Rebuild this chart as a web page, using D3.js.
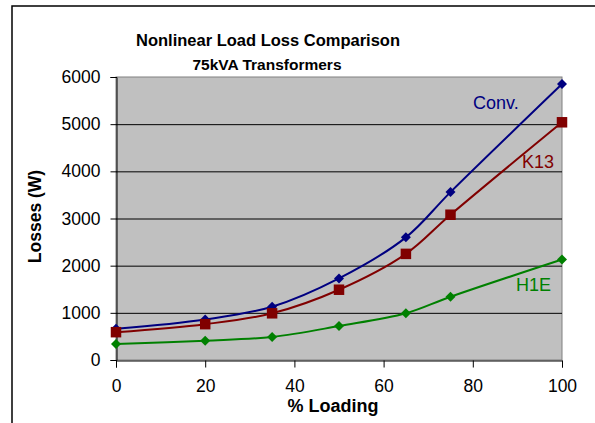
<!DOCTYPE html>
<html>
<head>
<meta charset="utf-8">
<script src="https://cdn.jsdelivr.net/npm/d3@7"></script>
<style>
  html, body { margin: 0; padding: 0; background: #fff; }
  svg { display: block; font-family: Arial, "Liberation Sans", sans-serif; }
</style>
</head>
<body>
<svg id="chart" width="595" height="423"></svg>
<script>
// Loading levels (% of rated load)
const loading = [0, 20, 35, 50, 65, 75, 100];

// Losses in watts for each transformer type
const convLosses = [660, 860, 1130, 1730, 2600, 3560, 5850];
const k13Losses  = [590, 760, 990, 1490, 2250, 3080, 5040];
const h1eLosses  = [340, 410, 490, 720, 990, 1340, 2130];

const yTicks = [0, 1000, 2000, 3000, 4000, 5000, 6000];
const xTicks = [0, 20, 40, 60, 80, 100];

const seriesNames = ["Conv.", "K13", "H1E"];

const svg = d3.select("#chart");

const plot = { left: 116, right: 562, top: 77, bottom: 360 };

const x = d3.scaleLinear().domain([0, 100]).range([plot.left, plot.right]);
const y = d3.scaleLinear().domain([0, 6000]).range([plot.bottom, plot.top]);

// Outer chart frame
svg.append("rect")
  .attr("x", 12).attr("y", 6)
  .attr("width", 700).attr("height", 500)
  .attr("fill", "#fff")
  .attr("stroke", "#000").attr("stroke-width", 1.5);

// Plot area background
svg.append("rect")
  .attr("x", plot.left).attr("y", plot.top)
  .attr("width", plot.right - plot.left)
  .attr("height", plot.bottom - plot.top)
  .attr("fill", "#c0c0c0")
  .attr("stroke", "#808080").attr("stroke-width", 1);

// Horizontal gridlines
svg.append("g")
  .selectAll("line")
  .data(yTicks.filter(d => d > 0 && d < 6000))
  .join("line")
  .attr("x1", plot.left).attr("x2", plot.right)
  .attr("y1", d => y(d) + 0.5).attr("y2", d => y(d) + 0.5)
  .attr("stroke", "#000").attr("stroke-width", 1);

// Y axis
const yAxis = svg.append("g")
  .attr("transform", `translate(${plot.left + 0.5},0)`)
  .call(d3.axisLeft(y).tickValues(yTicks).tickSize(6).tickPadding(10).tickFormat(d3.format("d")));
yAxis.select(".domain").attr("stroke", "#000");
yAxis.selectAll(".tick line").attr("stroke", "#000");
yAxis.selectAll("text").attr("font-size", 17.5).attr("fill", "#000")
  .attr("font-family", "Arial, 'Liberation Sans', sans-serif");

// X axis
const xAxis = svg.append("g")
  .attr("transform", `translate(0,${plot.bottom + 0.5})`)
  .call(d3.axisBottom(x).tickValues(xTicks).tickSize(7).tickPadding(12).tickFormat(d3.format("d")));
xAxis.select(".domain").attr("stroke", "#000");
xAxis.selectAll(".tick line").attr("stroke", "#000");
xAxis.selectAll("text").attr("font-size", 17.5).attr("fill", "#000")
  .attr("font-family", "Arial, 'Liberation Sans', sans-serif");

// Titles
svg.append("text")
  .attr("x", 268).attr("y", 46)
  .attr("text-anchor", "middle")
  .attr("font-size", 16.5).attr("font-weight", "bold")
  .text("Nonlinear Load Loss Comparison");
svg.append("text")
  .attr("x", 267).attr("y", 70)
  .attr("text-anchor", "middle")
  .attr("font-size", 15.5).attr("font-weight", "bold")
  .text("75kVA Transformers");

svg.append("text")
  .attr("x", 333).attr("y", 412)
  .attr("text-anchor", "middle")
  .attr("font-size", 18).attr("font-weight", "bold")
  .text("% Loading");

svg.append("text")
  .attr("transform", `translate(41,${(plot.top + plot.bottom) / 2 - 2}) rotate(-90)`)
  .attr("text-anchor", "middle")
  .attr("font-size", 17.5).attr("font-weight", "bold")
  .text("Losses (W)");

// Series
const series = [
  { name: seriesNames[0], values: convLosses, color: "#000080", marker: "diamond", size: 10,
    label: { x: 473, y: 109 } },
  { name: seriesNames[1], values: k13Losses, color: "#800000", marker: "square", size: 10.5,
    label: { x: 522, y: 168 } },
  { name: seriesNames[2], values: h1eLosses, color: "#008000", marker: "diamond", size: 10,
    label: { x: 516, y: 291 } }
];

const line = d3.line()
  .x((d, i) => x(loading[i]))
  .y(d => y(d))
  .curve(d3.curveCatmullRom.alpha(0.5));

series.forEach(s => {
  const g = svg.append("g");
  g.append("path")
    .attr("d", line(s.values))
    .attr("fill", "none")
    .attr("stroke", s.color)
    .attr("stroke-width", 2);

  const pts = g.selectAll("path.m")
    .data(s.values)
    .join("path")
    .attr("class", "m")
    .attr("transform", (d, i) => `translate(${x(loading[i])},${y(d)})`)
    .attr("fill", s.color);
  if (s.marker === "square") {
    const h = s.size / 2;
    pts.attr("d", `M${-h},${-h}H${h}V${h}H${-h}Z`);
  } else {
    const h = s.size / 2;
    pts.attr("d", `M0,${-h}L${h},0L0,${h}L${-h},0Z`);
  }

  svg.append("text")
    .attr("x", s.label.x).attr("y", s.label.y)
    .attr("font-size", 18)
    .attr("fill", s.color)
    .text(s.name);
});
</script>
</body>
</html>
